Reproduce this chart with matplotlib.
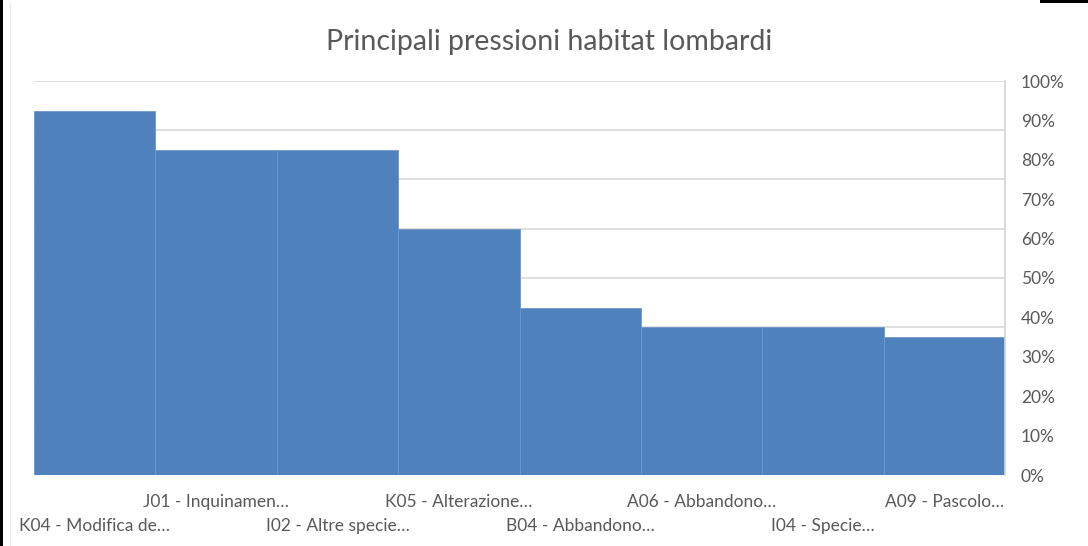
import matplotlib
matplotlib.use("Agg")
import matplotlib.pyplot as plt
from matplotlib.patches import Rectangle
import numpy as np

plt.rcParams['font.family'] = ['Lato', 'DejaVu Sans']

categories = [
    "K04 - Modifica de…",
    "J01 - Inquinamen…",
    "I02 - Altre specie…",
    "K05 - Alterazione…",
    "B04 - Abbandono…",
    "A06 - Abbandono…",
    "I04 - Specie…",
    "A09 - Pascolo…",
]
counts = [37, 33, 33, 25, 17, 15, 15, 14]
pct_ticks = [0, 10, 20, 30, 40, 50, 60, 70, 80, 90, 100]

bar_color = "#4F81BD"
text_color = "#595959"
grid_color = "#D9D9D9"

fig = plt.figure(figsize=(10.88, 5.46), dpi=100)
fig.patch.set_facecolor("white")
ax = fig.add_axes([34/1088, 1 - 475/546, (1005-34)/1088, (475-81)/546])

x = np.arange(len(categories))
ax.bar(x, counts, width=1.0, color=bar_color, edgecolor="#6F97CA", linewidth=0.6, zorder=3)
ax.set_xlim(-0.5, len(categories) - 0.5)
ax.set_ylim(0, 40)
ax.set_yticks(np.arange(0, 41, 5))
ax.yaxis.grid(True, color=grid_color, linewidth=1.2, zorder=0)
ax.set_axisbelow(True)

ax2 = ax.twinx()
ax2.set_ylim(0, 100)
ax2.set_yticks(pct_ticks)
ax2.set_yticklabels([f"{t}%" for t in pct_ticks])
ax2.tick_params(axis='y', left=False, right=False, labelleft=False,
                labelsize=12.5, labelcolor=text_color, pad=8)
for s in ['top', 'left', 'bottom']:
    ax2.spines[s].set_visible(False)
ax2.spines['right'].set_color(grid_color)
ax2.spines['right'].set_linewidth(1.2)

ax.tick_params(axis='y', left=False, right=False, labelleft=False, labelright=False)
ax.tick_params(axis='x', bottom=False, labelbottom=False)
for s in ['top', 'left', 'bottom']:
    ax.spines[s].set_visible(False)
ax.spines['right'].set_color(grid_color)
ax.spines['right'].set_linewidth(1.2)

# staggered category labels
for i, lab in enumerate(categories):
    yoff = -27 if i % 2 == 1 else -51
    ax.annotate(lab, xy=(i, 0), xycoords=('data', 'data'), xytext=(0, yoff),
                textcoords='offset pixels', ha='center', va='center',
                fontsize=12.5, color=text_color)

fig.text(549/1088, 1 - 42/546, "Principali pressioni habitat lombardi",
         ha='center', va='center', fontsize=20.5, color=text_color)

# chart border / screenshot edge
fig.patches.append(Rectangle((0, 0), 3/1088, 1, transform=fig.transFigure,
                             facecolor='black', edgecolor='none'))
fig.patches.append(Rectangle((1040/1088, 1 - 3/546), 48/1088, 3/546, transform=fig.transFigure,
                             facecolor='black', edgecolor='none'))
fig.add_artist(plt.Line2D([10/1088, 10/1088], [0, 1 - 3/546], transform=fig.transFigure,
                          color='#EBEBEB', linewidth=1))

fig.savefig("out.png", dpi=100)
